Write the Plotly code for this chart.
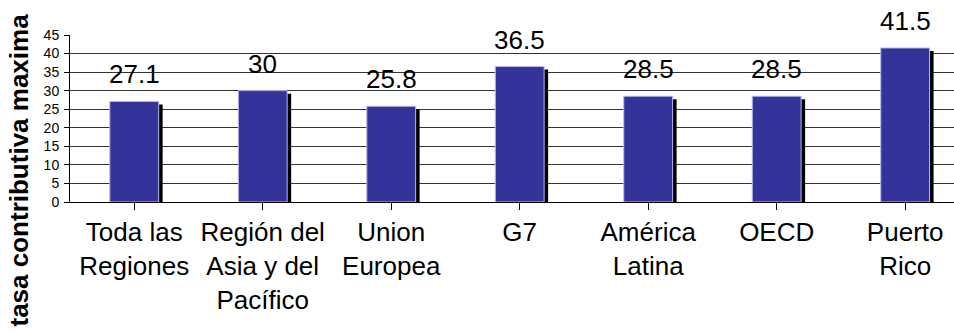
import plotly.graph_objects as go

categories = ["Toda las<br>Regiones", "Región del<br>Asia y del<br>Pacífico", "Union<br>Europea",
              "G7", "América<br>Latina", "OECD", "Puerto<br>Rico"]
values = [27.1, 30, 25.8, 36.5, 28.5, 28.5, 41.5]
value_labels = ["27.1", "30", "25.8", "36.5", "28.5", "28.5", "41.5"]
y_ticks = [0, 5, 10, 15, 20, 25, 30, 35, 40, 45]
y_title = "tasa contributiva maxima"

FONT = "Liberation Sans, Arial, sans-serif"
cat_px = (954 - 70) / 6.88
bar_w = 0.38
shadow_dx = 4 / cat_px
shadow_dy = 3 * 45 / 167

fig = go.Figure()
fig.add_trace(go.Bar(
    x=list(range(len(values))), y=values, base=[-shadow_dy] * len(values),
    width=bar_w, offset=-bar_w / 2 + shadow_dx,
    marker=dict(color="black", line=dict(width=0)),
    cliponaxis=False, hoverinfo="skip", showlegend=False,
))
fig.add_trace(go.Bar(
    x=list(range(len(values))), y=values,
    width=bar_w, offset=-bar_w / 2,
    marker=dict(color="#333399", line=dict(color="#b8b8f0", width=1)),
    cliponaxis=False, hoverinfo="skip", showlegend=False,
))

for i, (v, t) in enumerate(zip(values, value_labels)):
    fig.add_annotation(x=i, y=v, text=t, showarrow=False, yshift=27,
                       font=dict(family=FONT, size=26, color="black"))

fig.add_annotation(xref="paper", yref="paper", x=0, y=0.5, xshift=-52, yshift=-52,
                   xanchor="center", yanchor="middle",
                   text="<b>" + y_title + "</b>", textangle=-90, showarrow=False,
                   font=dict(family=FONT, size=26, color="black"))

fig.update_layout(
    width=954, height=331, margin=dict(l=70, r=0, t=35, b=129),
    barmode="overlay", plot_bgcolor="white", paper_bgcolor="white",
    font=dict(family=FONT, color="black"),
    xaxis=dict(
        range=[-0.5, 6.38], tickmode="array", tickvals=list(range(len(categories))),
        ticktext=categories, tickson="boundaries", ticks="outside", ticklen=7,
        tickcolor="black", showline=True, linecolor="black", linewidth=1,
        showgrid=False, zeroline=False, tickfont=dict(size=26, color="black"),
        tickangle=0, ticklabelstandoff=0,
    ),
    yaxis=dict(
        range=[0, 45], tickmode="array", tickvals=y_ticks, ticks="outside",
        ticklen=5, tickcolor="black", showline=True, linecolor="black", linewidth=1,
        showgrid=True, gridcolor="#333333", gridwidth=1, zeroline=False,
        tickfont=dict(size=14, color="black"), ticklabelstandoff=2,
    ),
)

fig.write_html("out.html")
